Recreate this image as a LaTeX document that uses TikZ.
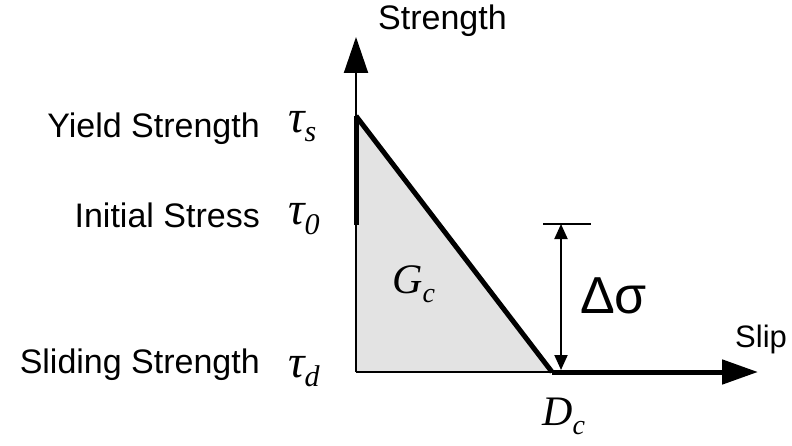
\documentclass[tikz,border=0pt]{standalone}
\usepackage{fontspec}
\setmainfont{Liberation Sans}
\newfontfamily\timesfont{Liberation Serif}
\usetikzlibrary{arrows.meta}
% italic symbol with a lowered subscript: size, subscript size, symbol, subscript
\newcommand{\varsub}[4]{{\timesfont\itshape\fontsize{#1}{#1}\selectfont #3\raisebox{-9pt}{\fontsize{#2}{#2}\selectfont #4}}}
\tikzset{
  axisline/.style={line width=2pt, -{Triangle[length=36pt, width=24pt]}},
  lawline/.style={line width=5pt},
  dimarrow/.style={line width=2pt, {Triangle[length=15pt, width=13pt]}-{Triangle[length=15pt, width=13pt]}},
  lbl/.style={font=\fontsize{34}{34}\selectfont, inner sep=0pt}
}

\begin{document}
\begin{tikzpicture}[x=1pt, y=1pt]
    \useasboundingbox (0,0) rectangle (792,445);

    % Key points of the slip-weakening law
    \coordinate (O) at (356,73);
    \coordinate (ytip) at (356,408);
    \coordinate (tauS) at (356,329);
    \coordinate (tau0) at (356,220);
    \coordinate (Dc) at (552,73);
    \coordinate (xtip) at (758,73);
    \coordinate (dbot) at (561,75);
    \coordinate (dtop) at (561,221);
    \coordinate (tickL) at (543,221);
    \coordinate (tickR) at (591,221);

    % Fracture energy area
    \fill[gray!22] (O) -- (tauS) -- (Dc) -- cycle;

    % Axes
    \draw[axisline] (O) -- (ytip);
    \draw[line width=2pt] (O) -- (Dc);

    % Strength vs slip
    \draw[lawline] (tau0) -- (tauS);
    \draw[lawline] (tauS) -- (Dc);
    \draw[lawline, -{Triangle[length=36pt, width=24pt]}] (Dc) -- (xtip);

    % Stress drop
    \draw[line width=1.5pt] (tickL) -- (tickR);
    \draw[dimarrow] (dbot) -- (dtop);

    % Labels
    \node[lbl, anchor=base west] (strength) at (378,415) {Strength};
    \node[lbl, anchor=base west, font=\fontsize{31}{31}\selectfont] (slip) at (735,98) {Slip};
    \node[lbl, anchor=base east] (yield) at (260,307) {Yield Strength};
    \node[lbl, anchor=base east] (initial) at (260,218) {Initial Stress};
    \node[lbl, anchor=base east] (sliding) at (260,72) {Sliding Strength};
    \node[inner sep=0pt, anchor=base west] (taus) at (288,312) {\varsub{46}{30}{τ}{s}};
    \node[inner sep=0pt, anchor=base west] (tauz) at (288,220) {\varsub{46}{30}{τ}{0}};
    \node[inner sep=0pt, anchor=base west] (taud) at (288,68) {\varsub{46}{30}{τ}{d}};
    \node[inner sep=0pt, anchor=base west] (gc) at (392,152) {\varsub{42}{28}{G}{c}};
    \node[inner sep=0pt, anchor=base west] (dc) at (542,20) {\varsub{42}{28}{D}{c}};
    \node[inner sep=0pt, anchor=base west, font=\fontsize{52}{52}\selectfont] (dsigma) at (580,132) {Δσ};
\end{tikzpicture}
\end{document}
